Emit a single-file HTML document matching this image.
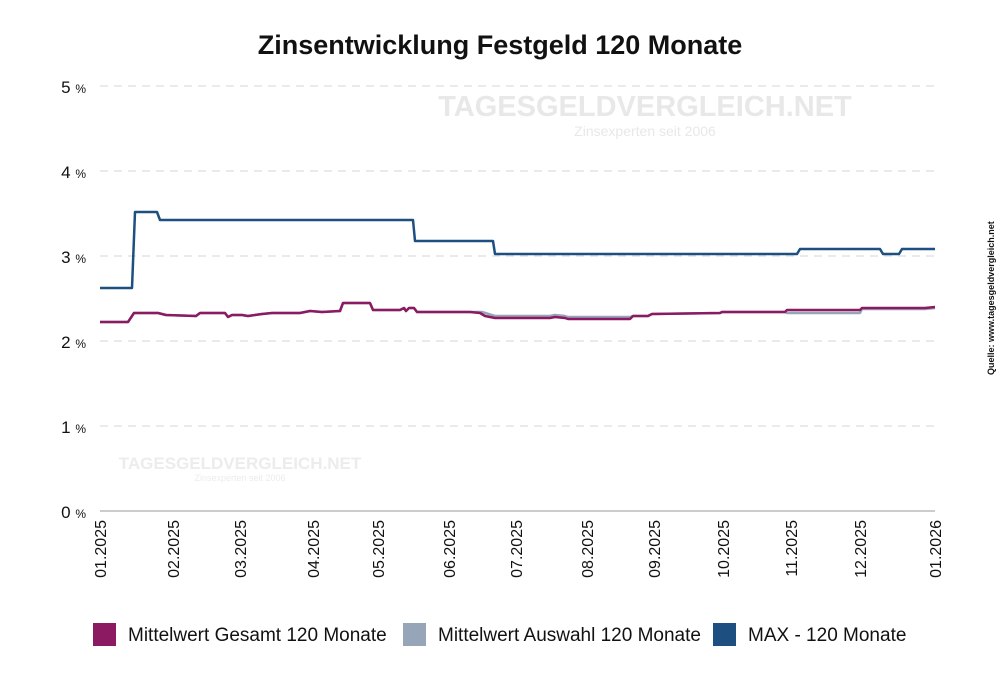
<!DOCTYPE html><html><head><style>body{margin:0;background:#fff}svg{display:block}text{font-family:"Liberation Sans",sans-serif}</style></head><body>
<svg width="1000" height="682" viewBox="0 0 1000 682">
<text x="500" y="54" text-anchor="middle" font-size="27" font-weight="bold" fill="#111">Zinsentwicklung Festgeld 120 Monate</text>
<g stroke="#d4d4d4" stroke-dasharray="8,6" stroke-width="1">
<line x1="100" x2="935" y1="86" y2="86"/><line x1="100" x2="935" y1="171" y2="171"/><line x1="100" x2="935" y1="256" y2="256"/><line x1="100" x2="935" y1="341" y2="341"/><line x1="100" x2="935" y1="426" y2="426"/></g>
<line x1="100" x2="935" y1="511" y2="511" stroke="#999"/>
<g font-size="17" fill="#111" text-anchor="end">
<text x="86" y="93">5 <tspan font-size="12">%</tspan></text><text x="86" y="178">4 <tspan font-size="12">%</tspan></text><text x="86" y="263">3 <tspan font-size="12">%</tspan></text><text x="86" y="348">2 <tspan font-size="12">%</tspan></text><text x="86" y="433">1 <tspan font-size="12">%</tspan></text><text x="86" y="518">0 <tspan font-size="12">%</tspan></text></g>
<g font-size="16" fill="#111" text-anchor="end">
<text transform="translate(106,520) rotate(-90)">01.2025</text><text transform="translate(179,520) rotate(-90)">02.2025</text><text transform="translate(246,520) rotate(-90)">03.2025</text><text transform="translate(319,520) rotate(-90)">04.2025</text><text transform="translate(384,520) rotate(-90)">05.2025</text><text transform="translate(455,520) rotate(-90)">06.2025</text><text transform="translate(522,520) rotate(-90)">07.2025</text><text transform="translate(593,520) rotate(-90)">08.2025</text><text transform="translate(660,520) rotate(-90)">09.2025</text><text transform="translate(729,520) rotate(-90)">10.2025</text><text transform="translate(797,520) rotate(-90)">11.2025</text><text transform="translate(866,520) rotate(-90)">12.2025</text><text transform="translate(941,520) rotate(-90)">01.2026</text></g>
<text x="645" y="116" font-size="29" font-weight="bold" fill="#e8e8e8" text-anchor="middle">TAGESGELDVERGLEICH.NET</text>
<text x="645" y="136" font-size="14" fill="#e8e8e8" text-anchor="middle">Zinsexperten seit 2006</text>
<text x="240" y="469" font-size="17" font-weight="bold" fill="#ececec" text-anchor="middle">TAGESGELDVERGLEICH.NET</text>
<text x="240" y="481" font-size="9" fill="#ececec" text-anchor="middle">Zinsexperten seit 2006</text>
<text transform="translate(994,375) rotate(-90)" font-size="9" font-weight="bold" fill="#111">Quelle: www.tagesgeldvergleich.net</text>
<g fill="none" stroke-width="2.5" stroke-linejoin="round">
<polyline stroke="#1d4f80" points="100,288 132,288 135,212 157,212 160,220 413,220 415,241 493,241 495,254 797,254 800,249 880,249 883,254 899,254 902,249 935,249"/>
<polyline stroke="#96a6b8" points="100,322 128,322 134,313 158,313 166,315 196,316 200,313 225,313 228,317 232,315 242,315 248,316 262,314 272,313 300,313 310,311 322,312 340,311 343,303 370,303 373,310 400,310 404,308 406,311 409,308 414,308 417,312 470,312 482,312 495,316 550,316 555,315 565,316 568,317 630,317 633,316 648,316 652,314 720,313 722,312 785,312 787,313 860,313 862,309 925,309 935,308"/>
<polyline stroke="#8b1a62" points="100,322 128,322 134,313 158,313 166,315 196,316 200,313 225,313 228,317 232,315 242,315 248,316 262,314 272,313 300,313 310,311 322,312 340,311 343,303 370,303 373,310 400,310 404,308 406,311 409,308 414,308 417,312 470,312 480,313 485,316 495,318 550,318 555,317 565,318 568,319 630,319 633,316 648,316 652,314 720,313 722,312 785,312 787,310 860,310 862,308 925,308 935,307"/>
</g>
<g font-size="19" fill="#111">
<rect x="93" y="623" width="23" height="23" fill="#8b1a62"/><text x="128" y="641">Mittelwert Gesamt 120 Monate</text>
<rect x="403" y="623" width="23" height="23" fill="#96a6b8"/><text x="438" y="641">Mittelwert Auswahl 120 Monate</text>
<rect x="713" y="623" width="23" height="23" fill="#1d4f80"/><text x="748" y="641">MAX - 120 Monate</text>
</g>
</svg></body></html>
